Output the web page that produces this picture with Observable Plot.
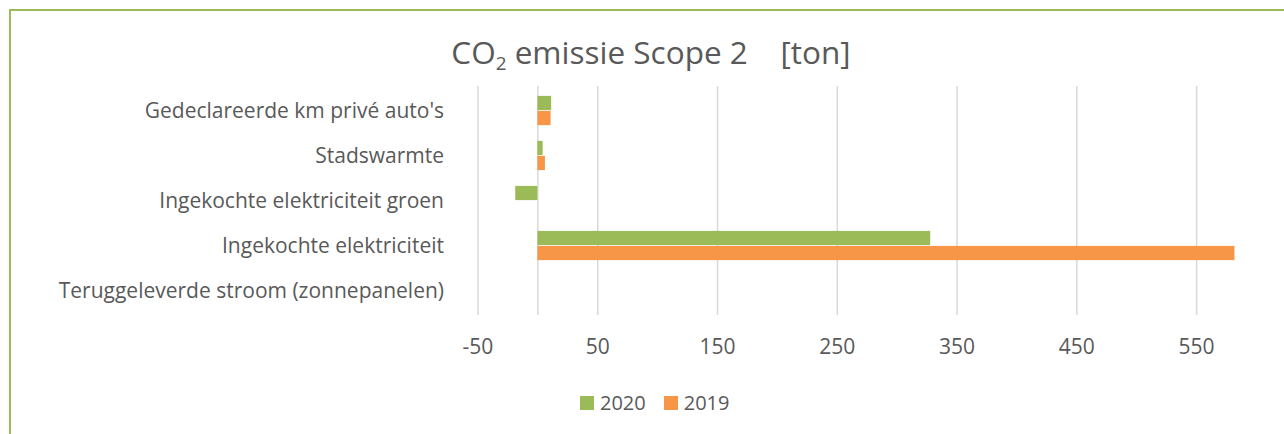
<!DOCTYPE html>
<html>
<head>
<meta charset="utf-8">
<script src="https://cdn.jsdelivr.net/npm/d3@7"></script>
<script src="https://cdn.jsdelivr.net/npm/@observablehq/plot@0.6"></script>
<style>
  html, body { margin: 0; padding: 0; background: #fff; }
  body { width: 1284px; height: 434px; position: relative; overflow: hidden; font-family: "Open Sans", sans-serif; color: #595959; }
  #frame { position: absolute; left: 9px; top: 9px; width: 1290px; height: 440px; border-top: 2px solid #9BBB59; border-left: 2px solid #9BBB59; }
  #title { position: absolute; left: 0; width: 1302px; top: 32px; text-align: center; font-size: 31.5px; line-height: 40px; white-space: pre; }
  #title sub { font-size: 0.6em; vertical-align: -0.3em; line-height: 0; }
  #chart { position: absolute; left: 0; top: 60px; }
  #legend { position: absolute; left: 580px; top: 390px; font-size: 20px; line-height: 26px; display: flex; align-items: center; }
  #legend .sw { display: inline-block; width: 14px; height: 14px; margin-right: 6px; }
  #legend .item { display: flex; align-items: center; margin-right: 18px; }
</style>
</head>
<body>
<div id="frame"></div>
<div id="title">CO<sub>2</sub> emissie Scope 2    [ton]</div>
<div id="chart"></div>
<div id="legend"></div>
<script>
const categories = [
  "Gedeclareerde km privé auto's",
  "Stadswarmte",
  "Ingekochte elektriciteit groen",
  "Ingekochte elektriciteit",
  "Teruggeleverde stroom (zonnepanelen)"
];
const series = ["2020", "2019"];
const values2020 = [11.5, 4.4, -18.5, 328, 0];
const values2019 = [11, 6.3, 0, 582, 0];
const xTicks = [-50, 50, 150, 250, 350, 450, 550];
const colors = {"2020": "#9BBB59", "2019": "#F79646"};

const rows2020 = categories.map((c, i) => ({cat: c, v: values2020[i]}));
const rows2019 = categories.map((c, i) => ({cat: c, v: values2019[i]}));

const plot = Plot.plot({
  width: 1284,
  height: 310,
  marginTop: 26,
  marginBottom: 55,
  marginLeft: 477.5,
  marginRight: 28,
  style: {fontFamily: "'Open Sans', sans-serif", fontSize: "19px", color: "#595959", background: "transparent"},
  x: {domain: [-50, 600], ticks: xTicks, tickSize: 0, tickPadding: 24},
  y: {domain: categories, padding: 0, tickSize: 0, tickPadding: 34, label: null},
  marks: [
    Plot.ruleX(xTicks, {stroke: "#D9D9D9", strokeWidth: 1.5}),
    Plot.ruleX([0], {stroke: "#D9D9D9", strokeWidth: 1.5}),
    Plot.barX(rows2020.filter(d => d.v !== 0), {x1: 0, x2: "v", y: "cat", fill: colors["2020"], insetTop: 7.9, insetBottom: 22.9}),
    Plot.barX(rows2019.filter(d => d.v !== 0), {x1: 0, x2: "v", y: "cat", fill: colors["2019"], insetTop: 22.9, insetBottom: 7.9}),
    Plot.axisX({ticks: xTicks, tickSize: 0, tickPadding: 24, fontSize: 21, fill: "#595959", label: null, tickFormat: d => String(d)}),
    Plot.axisY({tickSize: 0, tickPadding: 34, fontSize: 21, fill: "#595959", label: null})
  ]
});
document.getElementById("chart").appendChild(plot);

const legend = document.getElementById("legend");
series.forEach(s => {
  const item = document.createElement("div");
  item.className = "item";
  item.innerHTML = `<span class="sw" style="background:${colors[s]}"></span><span>${s}</span>`;
  legend.appendChild(item);
});
</script>
</body>
</html>
